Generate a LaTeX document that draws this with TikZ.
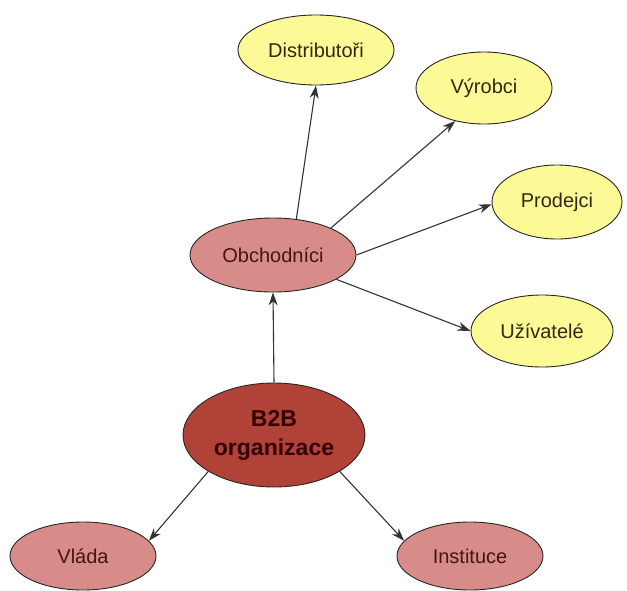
\documentclass[tikz,border=0pt]{standalone}
\usepackage{fontspec}
\setmainfont{Liberation Sans}
\usetikzlibrary{shapes.geometric,arrows.meta}
\definecolor{yel}{RGB}{252,250,150}
\definecolor{pink}{RGB}{216,140,138}
\definecolor{dred}{RGB}{176,66,56}
\definecolor{txtdark}{RGB}{50,40,20}
\definecolor{txtred}{RGB}{70,20,20}
\tikzset{
  base/.style={ellipse, draw=black!85, line width=0.9pt, inner sep=0pt},
  yelbox/.style={base, fill=yel, text=txtdark, font=\fontsize{20}{24}\selectfont},
  pinkbox/.style={base, fill=pink, text=txtred, font=\fontsize{20}{24}\selectfont},
  mainbox/.style={base, fill=dred, text=black!80!red, align=center, font=\bfseries\fontsize{23}{29}\selectfont},
  conn/.style={draw=black!80, line width=1.1pt, -{Stealth[length=13pt,width=9pt]}}
}
\begin{document}
\begin{tikzpicture}[x=1pt,y=-1pt]
\useasboundingbox (0,0) rectangle (627,590);
\node[yelbox, minimum width=156pt, minimum height=70pt] (dist) at (316,50) {Distributoři};
\node[yelbox, minimum width=136pt, minimum height=72pt] (vyr) at (484,88) {Výrobci};
\node[yelbox, minimum width=130pt, minimum height=74pt] (prod) at (557,202) {Prodejci};
\node[yelbox, minimum width=142pt, minimum height=72pt] (uziv) at (542,331) {Užívatelé};
\node[pinkbox, minimum width=166pt, minimum height=74pt] (obch) at (273,255) {Obchodníci};
\node[mainbox, minimum width=182pt, minimum height=104pt] (b2b) at (274,435) {B2B\\organizace};
\node[pinkbox, minimum width=146pt, minimum height=68pt] (vlada) at (83,556) {Vláda};
\node[pinkbox, minimum width=146pt, minimum height=68pt] (inst) at (470,556) {Instituce};
\draw[conn] (obch.57) -- (dist.south);
\draw[conn] (obch.25) -- (vyr.229);
\draw[conn] (obch.0) -- (prod.182);
\draw[conn] (obch.339) -- (uziv.180);
\draw[conn] (b2b.north) -- (obch.south);
\draw[conn] (b2b.209) -- (vlada.13);
\draw[conn] (b2b.331) -- (inst.167);
\end{tikzpicture}
\end{document}
